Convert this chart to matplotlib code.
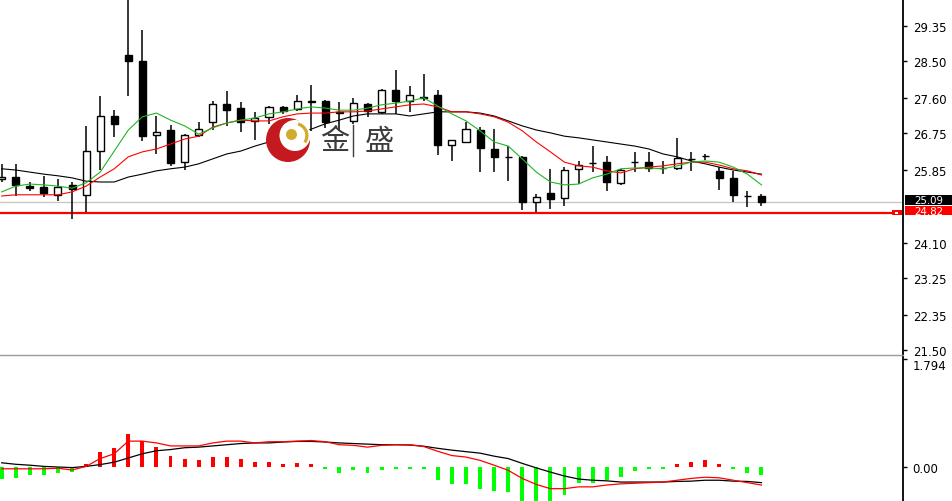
import matplotlib
matplotlib.use('Agg')
import matplotlib.pyplot as plt
import numpy as np
from matplotlib.patches import Circle, Wedge, Rectangle

# ---------------- data ----------------
open_ = [25.64, 25.69, 25.47, 25.45, 25.26, 25.50, 25.26, 26.32, 27.17, 28.65,
         28.50, 26.71, 26.83, 26.05, 26.71, 27.02, 27.46, 27.36, 27.05, 27.15,
         27.39, 27.34, 27.53, 27.53, 27.27, 27.05, 27.46, 27.27, 27.80, 27.53,
         27.61, 27.68, 26.47, 26.54, 26.83, 26.37, 26.18, 26.18, 25.09, 25.30,
         25.18, 25.88, 26.04, 26.05, 25.55, 26.06, 26.05, 25.91, 25.91, 26.13,
         26.20, 25.84, 25.67, 25.23, 25.23]
high = [26.01, 26.01, 25.57, 25.72, 25.64, 25.57, 26.93, 27.65, 27.31, 30.12,
        29.25, 27.17, 26.95, 26.73, 27.02, 27.53, 27.78, 27.51, 27.27, 27.41,
        27.41, 27.68, 27.92, 27.56, 27.51, 27.61, 27.48, 27.82, 28.28, 27.90,
        28.19, 27.80, 26.59, 27.02, 26.90, 26.85, 26.44, 26.20, 25.28, 25.88,
        25.93, 26.08, 26.44, 26.20, 25.88, 26.30, 26.30, 26.08, 26.64, 26.30,
        26.25, 25.93, 25.84, 25.35, 25.28]
low = [25.57, 25.23, 25.35, 25.21, 25.11, 24.67, 24.84, 25.86, 26.66, 27.65,
       26.56, 26.25, 25.96, 25.86, 26.66, 26.83, 26.93, 26.78, 26.59, 26.98,
       27.22, 27.29, 26.81, 26.88, 26.81, 26.98, 27.15, 27.22, 27.22, 27.27,
       27.53, 26.22, 26.08, 26.54, 25.81, 25.81, 25.59, 24.89, 24.84, 24.92,
       24.99, 25.52, 25.81, 25.35, 25.50, 25.81, 25.81, 25.76, 25.86, 25.84,
       26.10, 25.38, 25.09, 24.96, 24.99]
close = [25.69, 25.50, 25.42, 25.30, 25.45, 25.40, 26.32, 27.17, 26.98, 28.50,
         26.68, 26.78, 26.03, 26.71, 26.85, 27.46, 27.31, 27.02, 27.12, 27.39,
         27.29, 27.53, 27.51, 27.02, 27.24, 27.48, 27.29, 27.80, 27.53, 27.68,
         27.63, 26.47, 26.59, 26.85, 26.39, 26.18, 26.17, 25.09, 25.21, 25.16,
         25.86, 25.98, 26.03, 25.57, 25.86, 26.05, 25.91, 25.90, 26.15, 26.12,
         26.19, 25.67, 25.26, 25.22, 25.09]

ma_fast = [25.33, 25.47, 25.52, 25.50, 25.47, 25.42, 25.55, 25.81, 26.32, 26.83,
           27.15, 27.24, 27.07, 26.93, 26.73, 26.88, 27.00, 27.07, 27.12, 27.22,
           27.27, 27.34, 27.39, 27.36, 27.31, 27.31, 27.36, 27.44, 27.48, 27.53,
           27.61, 27.41, 27.22, 27.05, 26.81, 26.54, 26.44, 26.13, 25.81, 25.57,
           25.50, 25.52, 25.67, 25.76, 25.89, 25.91, 25.91, 25.89, 25.96, 26.05,
           26.08, 26.05, 25.93, 25.76, 25.50]
ma_mid = [25.23, 25.26, 25.26, 25.26, 25.26, 25.33, 25.47, 25.69, 25.89, 26.18,
          26.30, 26.37, 26.49, 26.61, 26.68, 26.90, 27.00, 27.07, 27.05, 27.05,
          27.15, 27.22, 27.24, 27.24, 27.27, 27.27, 27.29, 27.34, 27.39, 27.44,
          27.46, 27.39, 27.27, 27.27, 27.22, 27.15, 27.02, 26.81, 26.54, 26.30,
          26.05, 25.96, 25.93, 25.84, 25.79, 25.89, 25.93, 25.96, 26.01, 26.05,
          26.05, 25.98, 25.89, 25.84, 25.74]
ma_slow = [25.89, 25.86, 25.81, 25.76, 25.72, 25.67, 25.59, 25.57, 25.57, 25.69,
           25.76, 25.84, 25.89, 25.93, 26.01, 26.13, 26.25, 26.32, 26.44, 26.54,
           26.64, 26.73, 26.85, 26.98, 27.07, 27.17, 27.22, 27.22, 27.22, 27.17,
           27.22, 27.27, 27.27, 27.27, 27.24, 27.17, 27.05, 26.93, 26.83, 26.76,
           26.68, 26.64, 26.59, 26.54, 26.49, 26.44, 26.37, 26.25, 26.18, 26.08,
           26.01, 25.93, 25.86, 25.81, 25.76]

macd_hist = [-0.20, -0.18, -0.14, -0.14, -0.10, -0.08, 0.055, 0.25, 0.32, 0.55,
             0.43, 0.33, 0.18, 0.13, 0.11, 0.17, 0.17, 0.13, 0.09, 0.09,
             0.055, 0.07, 0.055, -0.03, -0.10, -0.055, -0.10, -0.045, -0.04, -0.04,
             -0.03, -0.21, -0.28, -0.29, -0.36, -0.40, -0.42, -0.70, -0.75, -0.65,
             -0.47, -0.27, -0.27, -0.22, -0.17, -0.07, -0.03, -0.03, 0.05, 0.09,
             0.11, 0.05, -0.04, -0.10, -0.14]
macd_black = [0.07, 0.045, 0.03, 0.01, 0.0, -0.01, 0.01, 0.04, 0.08, 0.15,
              0.22, 0.27, 0.29, 0.32, 0.33, 0.35, 0.37, 0.39, 0.40, 0.40,
              0.415, 0.425, 0.425, 0.415, 0.40, 0.39, 0.38, 0.37, 0.37, 0.365,
              0.345, 0.31, 0.28, 0.255, 0.23, 0.18, 0.14, 0.06, -0.015, -0.085,
              -0.15, -0.20, -0.22, -0.23, -0.25, -0.25, -0.25, -0.25, -0.24, -0.235,
              -0.22, -0.22, -0.235, -0.24, -0.26]
macd_red = [-0.03, -0.03, -0.03, -0.03, -0.02, -0.05, 0.01, 0.14, 0.22, 0.43,
            0.43, 0.40, 0.35, 0.35, 0.35, 0.40, 0.43, 0.43, 0.40, 0.42,
            0.42, 0.43, 0.44, 0.42, 0.37, 0.36, 0.33, 0.36, 0.37, 0.37,
            0.34, 0.26, 0.19, 0.165, 0.11, 0.03, -0.055, -0.19, -0.29, -0.36,
            -0.36, -0.33, -0.33, -0.30, -0.28, -0.27, -0.26, -0.25, -0.22, -0.19,
            -0.17, -0.18, -0.22, -0.26, -0.30]

price_ticks = [29.35, 28.50, 27.60, 26.75, 25.85, 24.10, 23.25, 22.35, 21.50]
macd_ticks = [1.794, 0.00]
macd_tick_labels = ['1.794', '0.00']
last_price = 25.09
level_price = 24.82

# ---------------- figure ----------------
W, H = 953, 502
fig = plt.figure(figsize=(W / 100, H / 100), dpi=100)
fig.patch.set_facecolor('white')

ax = fig.add_axes([0, (H - 356) / H, 903 / W, 356 / H])
ax2 = fig.add_axes([0, 0, 903 / W, (H - 357.5) / H])

x = np.arange(len(open_))
o = np.array(open_); c = np.array(close)
hi = np.array(high); lo = np.array(low)

XL = (-0.12, 64.06)
for a in (ax, ax2):
    a.set_xlim(*XL)
    a.set_xticks([])
    a.set_facecolor('white')
    for s in ('left', 'top'):
        a.spines[s].set_visible(False)
    a.spines['right'].set_color('black')
    a.spines['right'].set_linewidth(1.3)
    a.yaxis.tick_right()
    a.tick_params(axis='y', direction='out', length=3, width=1, pad=4,
                  labelsize=8.5, colors='black')

ax.spines['bottom'].set_color('#9a9a9a')
ax.spines['bottom'].set_linewidth(1.0)
ax2.spines['bottom'].set_visible(False)
ax2.spines['top'].set_color('black')
ax2.spines['top'].set_linewidth(1.3)

ax.set_ylim(21.378, 30.004)

# price lines
ax.axhline(last_price, color='#c4c4c4', lw=0.9, zorder=1)
ax.axhline(level_price, color='#ff0000', lw=1.6, zorder=1)

# candles
ax.vlines(x, lo, hi, color='black', lw=1.1, zorder=2)
body_col = ['white' if cc >= oo else 'black' for oo, cc in zip(o, c)]
ax.bar(x, np.abs(c - o), bottom=np.minimum(o, c), width=0.5, color=body_col,
       edgecolor='black', linewidth=1.0, zorder=3)

# moving averages
ax.plot(x, ma_slow, color='black', lw=0.8, zorder=4)
ax.plot(x, ma_mid, color='#ff0000', lw=0.8, zorder=4)
ax.plot(x, ma_fast, color='#22b422', lw=0.8, zorder=4)

ax.set_yticks(price_ticks)
ax.set_yticklabels([f'{v:.2f}' for v in price_ticks])

# MACD panel
ax2.set_ylim(-0.565, 1.836)
hcol = ['#ff0000' if v > 0 else '#00ff00' for v in macd_hist]
ax2.bar(x, macd_hist, width=0.28, color=hcol, zorder=2)
ax2.plot(x, macd_black, color='black', lw=0.9, zorder=3)
ax2.plot(x, macd_red, color='#ff0000', lw=0.9, zorder=3)
ax2.set_yticks(macd_ticks)
ax2.set_yticklabels(macd_tick_labels)
ax2.get_yticklabels()[0].set_va('top')

# overlay in pixel coordinates (logo + axis price boxes)
ov = fig.add_axes([0, 0, 1, 1])
ov.set_xlim(0, W); ov.set_ylim(H, 0)
ov.axis('off')
ov.set_zorder(5)


def ypix(price):
    return H - ax.transData.transform((0, price))[1]


y_last = ypix(last_price)
y_lvl = ypix(level_price)
# black box for last price (shifted up a little), red box for level below it
ov.add_patch(Rectangle((905, y_last - 6.5), 48, 9.5, fc='black', ec='none'))
ov.text(914, y_last - 2.0, f'{last_price:.2f}', color='white', fontsize=7.4,
        ha='left', va='center')
ov.add_patch(Rectangle((905, y_lvl - 7.2), 48, 9.6, fc='#ff0000', ec='none'))
ov.text(914, y_lvl - 1.8, f'{level_price:.2f}', color='white', fontsize=7.4,
        ha='left', va='center')
# small marker on the level line
ov.add_patch(Rectangle((892, y_lvl - 2.5), 10, 5, fc='#ff0000', ec='none'))
ov.add_patch(Rectangle((895.5, y_lvl - 1), 3, 2, fc='white', ec='none'))

# logo
ov.add_patch(Circle((288, 141), 22, fc='#c41a1f', ec='none'))
ov.add_patch(Circle((295, 136.5), 15.5, fc='white', ec='none'))
ov.add_patch(Wedge((295, 136.5), 13.5, -75, 35, width=3.2, fc='#d4aa2a', ec='none'))
ov.add_patch(Circle((291.5, 135.5), 5.5, fc='#d2ac28', ec='none'))
ov.text(335, 142, '金', fontsize=21, color='#3c3c3c', ha='center', va='center',
        family=['Noto Sans CJK SC'])
ov.text(379, 142, '盛', fontsize=21, color='#3c3c3c', ha='center', va='center',
        family=['Noto Sans CJK SC'])
ov.plot([353.5, 353.5], [126, 157], color='#3c3c3c', lw=1.0)

fig.savefig('out.png', dpi=100, facecolor='white')
